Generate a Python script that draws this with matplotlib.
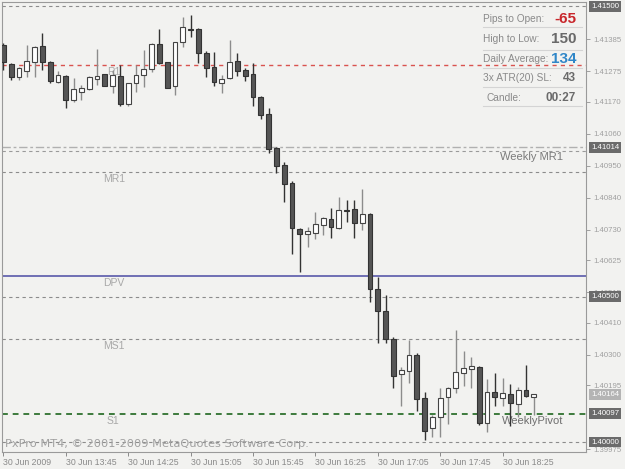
import matplotlib
matplotlib.use("Agg")
import matplotlib.pyplot as plt
import matplotlib.transforms as mtransforms

plt.rcParams['font.family'] = ['Liberation Sans', 'DejaVu Sans']

# 5-minute bars, 30 Jun 2009 from 13:05
opens = [1.41366, 1.41300, 1.41256, 1.41276, 1.41307, 1.41362, 1.41307, 1.41239, 1.41259, 1.41177,
         1.41204, 1.41214, 1.41249, 1.41266, 1.41225, 1.41259, 1.41163, 1.41235, 1.41263, 1.41283,
         1.41369, 1.41307, 1.41225, 1.41376, 1.41421, 1.41421, 1.41338, 1.41290, 1.41235, 1.41252,
         1.41311, 1.41280, 1.41266, 1.41187, 1.41128, 1.41012, 1.40953, 1.40891, 1.40733, 1.40716,
         1.40719, 1.40747, 1.40767, 1.40736, 1.40798, 1.40802, 1.40753, 1.40784, 1.40527, 1.40450,
         1.40354, 1.40234, 1.40244, 1.40300, 1.40152, 1.40048, 1.40086, 1.40155, 1.40186, 1.40237,
         1.40251, 1.40258, 1.40065, 1.40172, 1.40152, 1.40165, 1.40131, 1.40179, 1.40155]
highs = [1.41373, 1.41304, 1.41290, 1.41366, 1.41362, 1.41407, 1.41310, 1.41276, 1.41262, 1.41252,
         1.41228, 1.41258, 1.41352, 1.41268, 1.41280, 1.41297, 1.41237, 1.41297, 1.41349, 1.41373,
         1.41421, 1.41309, 1.41378, 1.41462, 1.41469, 1.41423, 1.41345, 1.41342, 1.41263, 1.41383,
         1.41338, 1.41287, 1.41304, 1.41189, 1.41149, 1.41015, 1.40963, 1.40898, 1.40735, 1.40740,
         1.40791, 1.40774, 1.40805, 1.40843, 1.40833, 1.40833, 1.40871, 1.40788, 1.40568, 1.40505,
         1.40361, 1.40258, 1.40351, 1.40306, 1.40172, 1.40093, 1.40186, 1.40189, 1.40385, 1.40313,
         1.40293, 1.40260, 1.40217, 1.40237, 1.40221, 1.40200, 1.40189, 1.40265, 1.40164]
lows = [1.41280, 1.41246, 1.41246, 1.41256, 1.41256, 1.41280, 1.41235, 1.41235, 1.41149, 1.41170,
        1.41177, 1.41211, 1.41228, 1.41225, 1.41201, 1.41156, 1.41156, 1.41204, 1.41221, 1.41273,
        1.41302, 1.41218, 1.41194, 1.41359, 1.41393, 1.41304, 1.41256, 1.41225, 1.41201, 1.41250,
        1.41259, 1.41242, 1.41156, 1.41111, 1.40994, 1.40926, 1.40826, 1.40647, 1.40585, 1.40671,
        1.40698, 1.40712, 1.40702, 1.40733, 1.40757, 1.40702, 1.40730, 1.40482, 1.40341, 1.40341,
        1.40186, 1.40124, 1.40203, 1.40107, 1.40007, 1.40017, 1.40017, 1.40062, 1.40169, 1.40194,
        1.40186, 1.40059, 1.40035, 1.40124, 1.40124, 1.40055, 1.40086, 1.40155, 1.40093]
closes = [1.41307, 1.41256, 1.41287, 1.41311, 1.41359, 1.41307, 1.41242, 1.41263, 1.41177, 1.41214,
          1.41218, 1.41256, 1.41259, 1.41225, 1.41263, 1.41163, 1.41235, 1.41263, 1.41283, 1.41369,
          1.41304, 1.41218, 1.41376, 1.41428, 1.41419, 1.41338, 1.41287, 1.41239, 1.41249, 1.41307,
          1.41276, 1.41259, 1.41187, 1.41125, 1.41008, 1.40950, 1.40888, 1.40736, 1.40716, 1.40726,
          1.40750, 1.40771, 1.40740, 1.40798, 1.40796, 1.40753, 1.40784, 1.40527, 1.40450, 1.40354,
          1.40227, 1.40248, 1.40300, 1.40148, 1.40038, 1.40086, 1.40152, 1.40187, 1.40241, 1.40255,
          1.40262, 1.40065, 1.40172, 1.40155, 1.40169, 1.40134, 1.40179, 1.40158, 1.40164]

time_tick_bars = [0, 8, 16, 24, 32, 40, 48, 56, 64]
time_tick_labels = ["30 Jun 2009", "30 Jun 13:45", "30 Jun 14:25", "30 Jun 15:05", "30 Jun 15:45",
                    "30 Jun 16:25", "30 Jun 17:05", "30 Jun 17:45", "30 Jun 18:25"]

price_ticks = [1.41385, 1.41275, 1.41170, 1.41060, 1.40950, 1.40840, 1.40730, 1.40625,
               1.40515, 1.40410, 1.40300, 1.40195, 1.39975]
boxed_prices = [1.41500, 1.41014, 1.40500, 1.40097, 1.40000]
bid_price = 1.40164

# pivot / grid levels
grid_levels = [1.41500, 1.40500, 1.40000]
r1_level = 1.41297
weekly_mr1 = [1.41014, 1.41003]
mr1_level = 1.40930
dpv_level = 1.40571
ms1_level = 1.40354
weekly_pivot = 1.40097

info_labels = ["Pips to Open:", "High to Low:", "Daily Average:", "3x ATR(20) SL:", "Candle:"]
info_values = ["-65", "150", "134", "43", "00:27"]

bg = '#f2f2f0'
fig = plt.figure(figsize=(6.25, 4.69), dpi=100, facecolor=bg)
ax = fig.add_axes([2 / 625, 17.5 / 469, 584 / 625, 449.5 / 469], facecolor=bg)
ax.set_xlim(-0.17, 74.7)
ax.set_ylim(1.399675, 1.41514)

dash = (0, (3, 3))
for lv in grid_levels:
    ax.axhline(lv, color='#8c8c8c', lw=0.8, ls=dash, zorder=1)
ax.axhline(r1_level, color='#d9534f', lw=1.0, ls=dash, zorder=1)
ax.axhline(weekly_mr1[0], color='#b0b0b0', lw=1.0, ls=(0, (6, 2, 2, 2)), zorder=1)
ax.axhline(weekly_mr1[1], color='#9a9a9a', lw=0.8, ls=dash, zorder=1)
ax.axhline(mr1_level, color='#8c8c8c', lw=0.8, ls=dash, zorder=1)
ax.axhline(dpv_level, color='#6f6fb4', lw=1.4, zorder=1)
ax.axhline(ms1_level, color='#8c8c8c', lw=0.8, ls=dash, zorder=1)
ax.axhline(weekly_pivot, color='#3d7a3d', lw=1.4, ls=(0, (3, 2.5)), zorder=1)

lab = dict(fontsize=7.5, color='#a8a8a8', va='top', ha='left', textcoords='offset points', zorder=2)
ax.annotate("R1", (13.3, r1_level), xytext=(0, -1.5), **lab)
ax.annotate("MR1", (12.8, mr1_level), xytext=(0, -1.5), **lab)
ax.annotate("DPV", (12.8, dpv_level), xytext=(0, -1.5), **lab)
ax.annotate("MS1", (12.8, ms1_level), xytext=(0, -1.5), **lab)
ax.annotate("S1", (13.3, weekly_pivot), xytext=(0, -1.5), **lab)
ax.annotate("Weekly MR1", (63.7, weekly_mr1[1]), xytext=(0, -1), fontsize=8, color='#7a7a7a',
            va='top', ha='left', textcoords='offset points', zorder=2)
ax.annotate("WeeklyPivot", (63.9, weekly_pivot), xytext=(0, -1.5), fontsize=8, color='#6e6e6e',
            va='top', ha='left', textcoords='offset points', zorder=2)

# candles
w = 0.62
for i, (o, h, l, c) in enumerate(zip(opens, highs, lows, closes)):
    up = c >= o
    wick = '#8c8c8c' if up else '#333333'
    ax.vlines(i, l, h, color=wick, lw=1.0, zorder=3)
    body = max(abs(c - o), 0.000012)
    ax.bar(i, body, w, bottom=min(o, c), color='white' if up else '#555555',
           edgecolor='#444444' if up else '#333333', lw=0.8, zorder=4)

# axes / ticks
for s in ['left', 'top', 'bottom', 'right']:
    ax.spines[s].set_color('#9a9a9a')
    ax.spines[s].set_linewidth(0.8)
ax.yaxis.tick_right()
ax.set_yticks(price_ticks)
ax.set_yticklabels([f"{p:.5f}" for p in price_ticks])
ax.tick_params(axis='y', colors='#a0a0a0', labelsize=5.6, length=3, width=0.7, pad=2)
ax.set_xticks(time_tick_bars)
ax.set_xticklabels(time_tick_labels, ha='left')
ax.tick_params(axis='x', colors='#8a8a8a', labelsize=6.3, length=3, width=0.7, pad=2)

trans = mtransforms.blended_transform_factory(ax.transAxes, ax.transData)
for p in boxed_prices:
    ax.text(1.009, p, f"{p:.5f}", transform=trans, fontsize=5.6, color='white', va='center',
            ha='left', zorder=6, clip_on=False,
            bbox=dict(boxstyle='square,pad=0.25', facecolor='#6b6b6b', edgecolor='none'))
ax.text(1.009, bid_price, f"{bid_price:.5f}", transform=trans, fontsize=5.6, color='white',
        va='center', ha='left', zorder=6, clip_on=False,
        bbox=dict(boxstyle='square,pad=0.25', facecolor='#b4b4b4', edgecolor='none'))

# info panel
row_y = [0.9622, 0.9177, 0.8732, 0.8309, 0.7864]
sep_y = [0.9444, 0.8932, 0.8532, 0.8109, 0.7686]
val_colors = ['#c8262b', '#6a6a6a', '#2f86c8', '#6a6a6a', '#6a6a6a']
val_sizes = [11, 11, 11, 8.5, 8.5]
for k, (lbl, val) in enumerate(zip(info_labels, info_values)):
    lx = 0.8236 if lbl != "Candle:" else 0.830
    ax.text(lx, row_y[k], lbl, transform=ax.transAxes, fontsize=7.3, color='#8a8a8a',
            va='center', ha='left', zorder=7)
    ax.text(0.9829, row_y[k], val, transform=ax.transAxes, fontsize=val_sizes[k],
            color=val_colors[k], fontweight='bold', va='center', ha='right', zorder=7)
    ax.plot([0.8236, 0.9932], [sep_y[k]] * 2, transform=ax.transAxes, color='#d4d4d4',
            lw=0.8, zorder=7)

ax.text(0.005, 0.0167, "PxPro MT4, \u00a9 2001-2009 MetaQuotes Software Corp.",
        transform=ax.transAxes, fontsize=8.2, family='DejaVu Sans', color='#a0a0a0',
        va='center', ha='left', zorder=7)

fig.savefig("out.png", dpi=100, facecolor=bg)
